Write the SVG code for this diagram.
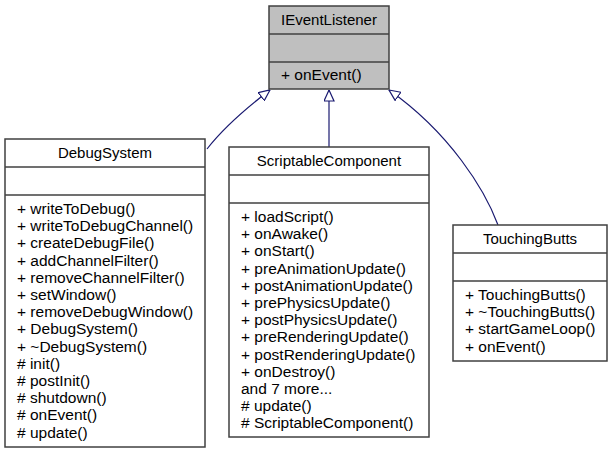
<svg xmlns="http://www.w3.org/2000/svg" width="613" height="455" viewBox="0 0 613 455">
<style>
text{font-family:"Liberation Sans",Arial,sans-serif;font-size:15.5px;fill:#000}
.t{text-anchor:middle;font-size:15px}
.box{fill:#fff;stroke:#404040;stroke-width:1.5}
.cur{fill:#bfbfbf}
.div{stroke:#404040;stroke-width:1.5}
.edge{fill:none;stroke:#191970;stroke-width:1.2}
</style>
<defs>
<marker id="inh" viewBox="0 0 12 11" refX="11.5" refY="5.5" markerWidth="12" markerHeight="11" markerUnits="userSpaceOnUse" orient="auto">
<path d="M0.5,0.5 L11.5,5.5 L0.5,10.5 Z" fill="#fff" stroke="#191970" stroke-width="1.2"/>
</marker>
</defs>
<g id="edges">
<path class="edge" d="M207,149 Q228,122 270,90" marker-end="url(#inh)"/>
<path class="edge" d="M329,147 L329,90" marker-end="url(#inh)"/>
<path class="edge" d="M498,225 C485,190 450,133 389,90" marker-end="url(#inh)"/>
</g>
<g id="IEventListener">
<rect class="box cur" x="269" y="6" width="120" height="83"/>
<line class="div" x1="269" y1="34" x2="389" y2="34"/>
<line class="div" x1="269" y1="62" x2="389" y2="62"/>
<text class="t" x="329" y="25">IEventListener</text>
<text x="281" y="80">+ onEvent()</text>
</g>
<g id="DebugSystem">
<rect class="box" x="5" y="139" width="200" height="308"/>
<line class="div" x1="5" y1="167" x2="205" y2="167"/>
<line class="div" x1="5" y1="195" x2="205" y2="195"/>
<text class="t" x="105" y="158">DebugSystem</text>
<text x="17" y="214">+ writeToDebug()</text>
<text x="17" y="231.2">+ writeToDebugChannel()</text>
<text x="17" y="248.4">+ createDebugFile()</text>
<text x="17" y="265.6">+ addChannelFilter()</text>
<text x="17" y="282.8">+ removeChannelFilter()</text>
<text x="17" y="300">+ setWindow()</text>
<text x="17" y="317.2">+ removeDebugWindow()</text>
<text x="17" y="334.4">+ DebugSystem()</text>
<text x="17" y="351.6">+ ~DebugSystem()</text>
<text x="17" y="368.8"># init()</text>
<text x="17" y="386"># postInit()</text>
<text x="17" y="403.2"># shutdown()</text>
<text x="17" y="420.4"># onEvent()</text>
<text x="17" y="437.6"># update()</text>
</g>
<g id="ScriptableComponent">
<rect class="box" x="229" y="147" width="200" height="290"/>
<line class="div" x1="229" y1="175" x2="429" y2="175"/>
<line class="div" x1="229" y1="203" x2="429" y2="203"/>
<text class="t" x="329" y="166">ScriptableComponent</text>
<text x="241" y="222">+ loadScript()</text>
<text x="241" y="239.2">+ onAwake()</text>
<text x="241" y="256.4">+ onStart()</text>
<text x="241" y="273.6">+ preAnimationUpdate()</text>
<text x="241" y="290.8">+ postAnimationUpdate()</text>
<text x="241" y="308">+ prePhysicsUpdate()</text>
<text x="241" y="325.2">+ postPhysicsUpdate()</text>
<text x="241" y="342.4">+ preRenderingUpdate()</text>
<text x="241" y="359.6">+ postRenderingUpdate()</text>
<text x="241" y="376.8">+ onDestroy()</text>
<text x="241" y="394">and 7 more...</text>
<text x="241" y="411.2"># update()</text>
<text x="241" y="428.4"># ScriptableComponent()</text>
</g>
<g id="TouchingButts">
<rect class="box" x="453" y="225" width="154" height="136"/>
<line class="div" x1="453" y1="253" x2="607" y2="253"/>
<line class="div" x1="453" y1="281" x2="607" y2="281"/>
<text class="t" x="530" y="244">TouchingButts</text>
<text x="465" y="300">+ TouchingButts()</text>
<text x="465" y="317.2">+ ~TouchingButts()</text>
<text x="465" y="334.4">+ startGameLoop()</text>
<text x="465" y="351.6">+ onEvent()</text>
</g>
</svg>
